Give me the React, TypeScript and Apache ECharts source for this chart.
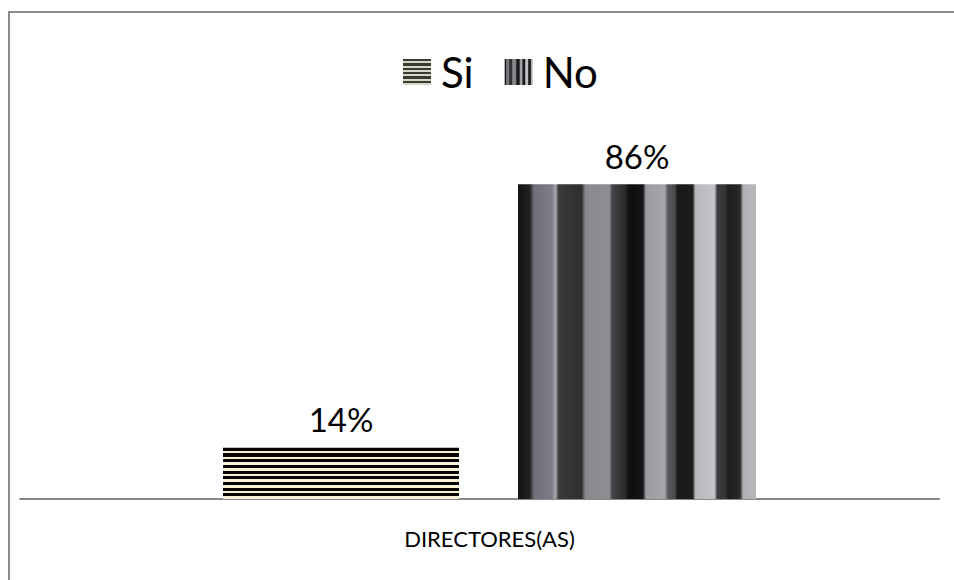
import React, { useEffect, useRef } from "react";
import * as echarts from "echarts";

const categories = ["DIRECTORES(AS)"];
const seriesNames = ["Si", "No"];
const siValues = [14];
const noValues = [86];

const FONT = "Lato, 'Liberation Sans', sans-serif";

function hStripes(periods: number, cream: string, dark: string) {
  const stops: { offset: number; color: string }[] = [];
  for (let i = 0; i < periods; i++) {
    const a = i / periods;
    const b = (i + 0.55) / periods;
    const c = (i + 1) / periods;
    stops.push({ offset: a, color: dark }, { offset: b, color: dark });
    stops.push({ offset: b, color: cream }, { offset: c, color: cream });
  }
  return new echarts.graphic.LinearGradient(0, 0, 0.0, 1, stops);
}

// vertical band stops for the "No" bar (x in px across a 240px bar)
const noBands: [number, string][] = [
  [0, "#141414"], [12, "#222224"], [16, "#6e6f78"], [34, "#7c7d85"], [38, "#a8a8ac"],
  [41, "#3a3a3a"], [64, "#2e2e30"], [68, "#88888e"], [92, "#8e8e94"], [95, "#444446"],
  [108, "#2a2a2a"], [112, "#0e0e10"], [126, "#141416"], [129, "#9c9ca2"], [148, "#a4a4aa"],
  [151, "#5a5a5e"], [158, "#4a4a4c"], [161, "#18181a"], [176, "#1c1c1e"], [179, "#b8b8bc"],
  [198, "#c4c4c8"], [201, "#3c3c3e"], [209, "#343436"], [212, "#1e1e20"], [224, "#2a2a2a"],
  [227, "#b0b0b4"], [240, "#b8b8bc"],
];

function vBands() {
  return new echarts.graphic.LinearGradient(
    0, 0, 1, 0,
    noBands.map(([x, c]) => ({ offset: x / 240, color: c }))
  );
}

export default function App() {
  const ref = useRef<HTMLDivElement>(null);
  useEffect(() => {
    if (!ref.current) return;
    const chart = echarts.init(ref.current, undefined, { renderer: "svg" });
    chart.setOption({
      animation: false,
      backgroundColor: "#fff",
      graphic: [
        {
          type: "rect",
          shape: { x: 9, y: 12, width: 1000, height: 700 },
          style: { fill: "none", stroke: "#8c8c8c", lineWidth: 2 },
          silent: true,
          z: 100,
        },
      ],
      legend: {
        left: 398,
        top: 46,
        itemWidth: 28,
        itemHeight: 26,
        itemGap: 31,
        icon: "rect",
        textStyle: { fontSize: 42, color: "#000", fontFamily: FONT, padding: [0, 0, 0, 5] },
        data: [
          { name: seriesNames[0], itemStyle: { color: hStripes(6, "#d8d6c4", "#3a3a34") } },
          { name: seriesNames[1], itemStyle: { color: vBands() } },
        ],
      },
      grid: [
        { left: 40, right: 15, top: 133, bottom: 81 },
        { left: 20, right: 15, top: 133, bottom: 81 },
      ],
      xAxis: [
        {
          type: "category",
          gridIndex: 0,
          data: categories,
          axisLine: { show: false },
          axisTick: { show: false },
          axisLabel: { margin: 28, fontSize: 22, color: "#000", fontFamily: FONT },
        },
        {
          type: "category",
          gridIndex: 1,
          data: [""],
          axisLine: { show: true, lineStyle: { color: "#888", width: 2 } },
          axisTick: { show: false },
          axisLabel: { show: false },
        },
      ],
      yAxis: [
        { type: "value", gridIndex: 0, min: 0, max: 100, show: false, splitLine: { show: false } },
        { type: "value", gridIndex: 1, min: 0, max: 100, show: false, splitLine: { show: false } },
      ],
      series: [
        {
          name: seriesNames[0],
          type: "bar",
          xAxisIndex: 0,
          yAxisIndex: 0,
          data: siValues,
          barWidth: 236,
          barGap: "25%",
          itemStyle: { color: hStripes(9, "#f7f2d6", "#050505") },
          label: {
            show: true,
            position: "top",
            distance: 12,
            formatter: "{c}%",
            fontSize: 33,
            color: "#000",
            fontFamily: FONT,
          },
        },
        {
          name: seriesNames[1],
          type: "bar",
          xAxisIndex: 0,
          yAxisIndex: 0,
          data: noValues,
          barWidth: 238,
          barGap: "25%",
          itemStyle: { color: vBands() },
          label: {
            show: true,
            position: "top",
            distance: 12,
            formatter: "{c}%",
            fontSize: 33,
            color: "#000",
            fontFamily: FONT,
          },
        },
      ],
    });
    return () => chart.dispose();
  }, []);
  return (
    <div
      ref={ref}
      style={{ position: "absolute", left: 0, top: 0, width: 954, height: 580 }}
    />
  );
}
